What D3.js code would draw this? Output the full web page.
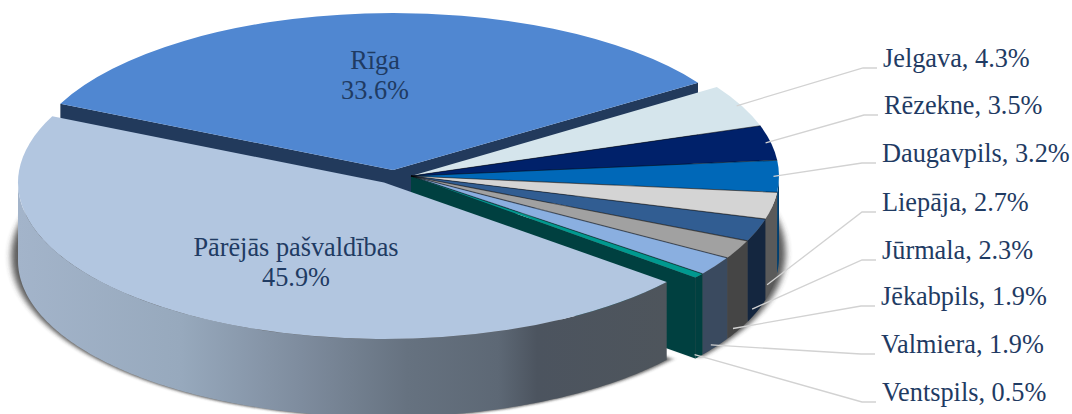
<!DOCTYPE html>
<html>
<head>
<meta charset="utf-8">
<script src="https://cdn.jsdelivr.net/npm/d3@7"></script>
<style>
  html, body { margin: 0; padding: 0; background: #fff; }
  svg { display: block; }
  text { font-family: "Liberation Serif", serif; fill: #1f3b63; }
</style>
</head>
<body>
<svg></svg>
<script>
var width = 1072;
var height = 414;

// slices, clockwise from Rīga
var names = ['Rīga', 'Jelgava', 'Rēzekne', 'Daugavpils', 'Liepāja', 'Jūrmala', 'Jēkabpils', 'Valmiera', 'Ventspils', 'Pārējās pašvaldības'];
var shares = [33.6, 4.3, 3.5, 3.2, 2.7, 2.3, 1.9, 1.9, 0.5, 45.9];

var topColors = ['#5087d1', '#d5e5ec', '#00216a', '#0068b8', '#d4d4d4', '#315d92', '#a1a1a1', '#8aafe0', '#00998f', '#b2c6e0'];
var wallColors = ['#223a5c', '#7f9aa3', '#001540', '#003f70', '#5a5a5a', '#14263f', '#454545', '#3a4a5f', '#004040', '#7c8ba0'];

// outside label placement (baseline y, left x)
var labelX = [883, 884, 882, 882, 882, 881, 881, 882];
var labelY = [67, 114, 162, 211, 259, 305, 353, 401];

var fontSize = 26.3;
var deg = Math.PI / 180;

// the three exploded pieces of the pie
var rigaGeo = {cx: 393, cy: 170, R: 367, ry: 157, depth: 79};
var mainGeo = {cx: 411, cy: 176, R: 368, ry: 160, depth: 81};
var restGeo = {cx: 384, cy: 182.5, R: 366, ry: 156.5, depth: 78};

var topColor = d3.scaleOrdinal(names, topColors);
var wallColor = d3.scaleOrdinal(names, wallColors);

var slices = d3.pie()
  .value(function(d, i) { return shares[i]; })
  .sort(null)
  .startAngle(-65 * deg)
  .endAngle(295 * deg)(names);

var svg = d3.select('svg')
  .attr('width', width)
  .attr('height', height);

var defs = svg.append('defs');

defs.append('filter')
  .attr('id', 'blur')
  .attr('x', '-10%').attr('y', '-10%').attr('width', '120%').attr('height', '120%')
  .append('feGaussianBlur')
  .attr('stdDeviation', 3);

var restGradient = defs.append('linearGradient')
  .attr('id', 'restWall')
  .attr('gradientUnits', 'userSpaceOnUse')
  .attr('x1', 18).attr('x2', 667)
  .attr('y1', 0).attr('y2', 0);
[[0, '#a3b4ca'], [0.25, '#97a9bd'], [0.43, '#7f8d9f'], [0.6, '#667280'], [0.74, '#5d6875'], [0.8, '#4c545f'], [1, '#4e555c']].forEach(function(s) {
  restGradient.append('stop').attr('offset', s[0]).attr('stop-color', s[1]);
});

function point(a, g, dy) {
  return [g.cx + g.R * Math.sin(a), g.cy - g.ry * Math.cos(a) + (dy || 0)];
}

var line = d3.line();

// curved outer side of a slice between two angles
function outerWall(a0, a1, g) {
  var from = Math.max(a0, 90 * deg);
  var to = Math.min(a1, 270 * deg);
  if (to <= from) return null;
  var angles = d3.range(from, to, 0.01).concat([to]);
  var upper = angles.map(function(a) { return point(a, g); });
  var lower = angles.slice().reverse().map(function(a) { return point(a, g, g.depth); });
  return line(upper.concat(lower)) + 'Z';
}

// flat cut side along a radius
function cutWall(a, g) {
  var c = [g.cx, g.cy];
  var rim = point(a, g);
  return line([c, rim, [rim[0], rim[1] + g.depth], [c[0], c[1] + g.depth]]) + 'Z';
}

var arc = function(d, g) {
  return d3.arc().innerRadius(0).outerRadius(g.R).startAngle(d.startAngle).endAngle(d.endAngle)();
};

function drawTop(d, g) {
  svg.append('path')
    .attr('d', arc(d, g))
    .attr('transform', 'translate(' + g.cx + ',' + g.cy + ') scale(1,' + (g.ry / g.R) + ')')
    .attr('fill', topColor(d.data));
}

var riga = slices[0];
var mainSlices = slices.slice(1, 9);
var rest = slices[9];

// soft shadow under the body, wide at the sides and thin below
function drawShadow(a0, a1, g) {
  svg.append('path')
    .attr('d', arc({startAngle: a0, endAngle: a1}, g))
    .attr('transform', 'translate(' + g.cx + ',' + (g.cy + g.depth - 4) + ') scale(1.018,' + (g.ry / g.R * 1.03) + ')')
    .attr('fill', '#333')
    .attr('opacity', 0.8)
    .attr('filter', 'url(#blur)');
}
drawShadow(mainSlices[0].startAngle, mainSlices[7].endAngle, mainGeo);
drawShadow(rest.startAngle, rest.endAngle, restGeo);

// Rīga
[riga.startAngle, riga.endAngle].forEach(function(a) {
  svg.append('path').attr('d', cutWall(a, rigaGeo)).attr('fill', wallColor(riga.data));
});
drawTop(riga, rigaGeo);

// small slices
svg.append('path')
  .attr('d', cutWall(mainSlices[7].endAngle, mainGeo))
  .attr('fill', wallColor(mainSlices[7].data));

mainSlices.forEach(function(d) {
  var wall = outerWall(d.startAngle, d.endAngle, mainGeo);
  if (wall) svg.append('path').attr('d', wall).attr('fill', wallColor(d.data));
});
mainSlices.forEach(function(d) {
  drawTop(d, mainGeo);
});
mainSlices.slice(1).forEach(function(d) {
  svg.append('path')
    .attr('d', line([[mainGeo.cx, mainGeo.cy], point(d.startAngle, mainGeo)]))
    .attr('stroke', '#000')
    .attr('stroke-opacity', 0.5)
    .attr('stroke-width', 1.1)
    .attr('fill', 'none');
});

// Pārējās pašvaldības
svg.append('path')
  .attr('d', outerWall(rest.startAngle, rest.endAngle, restGeo))
  .attr('fill', 'url(#restWall)');
drawTop(rest, restGeo);

// leader lines
mainSlices.forEach(function(d, i) {
  var mid = (d.startAngle + d.endAngle) / 2;
  var start = point(mid, {cx: mainGeo.cx, cy: mainGeo.cy, R: mainGeo.R * 0.985, ry: mainGeo.ry}, mid > 92 * deg ? mainGeo.depth - 2 : 0);
  svg.append('path')
    .attr('d', line([start, [labelX[i] - 20, labelY[i] + 1], [labelX[i] - 6, labelY[i] + 1]]))
    .attr('fill', 'none')
    .attr('stroke', '#d2d2d2')
    .attr('stroke-width', 1.3);

  svg.append('text')
    .attr('x', labelX[i])
    .attr('y', labelY[i])
    .attr('font-size', fontSize)
    .text(d.data + ', ' + d3.format('.1f')(shares[i + 1]) + '%');
});

// labels on the two big slices
function bigLabel(d, x, y) {
  var t = svg.append('text').attr('text-anchor', 'middle').attr('font-size', fontSize);
  t.append('tspan').attr('x', x).attr('y', y).text(d.data);
  t.append('tspan').attr('x', x).attr('y', y + 30).text(d3.format('.1f')(d.value) + '%');
}
bigLabel(riga, 375, 69);
bigLabel(rest, 296, 256);
</script>
</body>
</html>
